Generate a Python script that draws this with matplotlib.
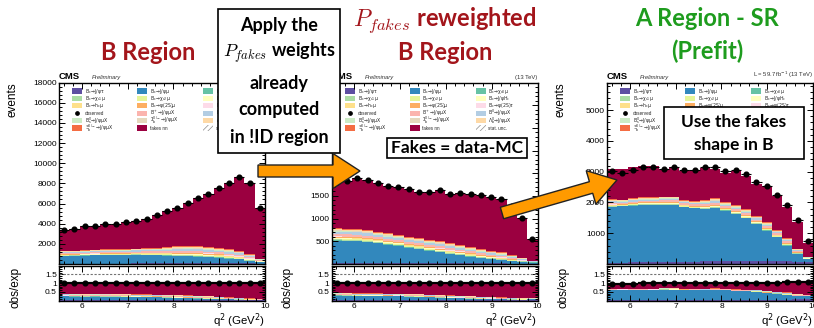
import numpy as np
import matplotlib
matplotlib.use("Agg")
import matplotlib.pyplot as plt
from matplotlib.patches import Rectangle, FancyArrow
from matplotlib.ticker import MultipleLocator, FixedLocator

plt.rcParams['font.family'] = ['Liberation Sans', 'DejaVu Sans']
plt.rcParams['hatch.linewidth'] = 0.5

# q2 binning (GeV^2)
q2_edges = np.linspace(5.5, 10.0, 21)

# stack components, bottom -> top
comp_keys = ['tau', 'mu', 'chic0', 'chic1', 'chic2', 'jpsihc', 'hc', 'psi2smu', 'psi2stau',
             'bplus', 'b0', 'bs', 'sigmab', 'lambdab', 'xib', 'fakes']
comp_labels = {
    'tau': r'$\mathrm{B_c\!\rightarrow\!J/\psi\tau}$',
    'mu': r'$\mathrm{B_c\!\rightarrow\!J/\psi\mu}$',
    'chic0': r'$\mathrm{B_c\!\rightarrow\!\chi_{c0}\mu}$',
    'chic1': r'$\mathrm{B_c\!\rightarrow\!\chi_{c1}\mu}$',
    'chic2': r'$\mathrm{B_c\!\rightarrow\!\chi_{c2}\mu}$',
    'jpsihc': r'$\mathrm{B_c\!\rightarrow\!J/\psi H_c}$',
    'hc': r'$\mathrm{B_c\!\rightarrow\!h_c\mu}$',
    'psi2smu': r'$\mathrm{B_c\!\rightarrow\!\psi(2S)\mu}$',
    'psi2stau': r'$\mathrm{B_c\!\rightarrow\!\psi(2S)\tau}$',
    'bplus': r'$\mathrm{B^+\!\rightarrow\!J/\psi\mu X}$',
    'b0': r'$\mathrm{B^0\!\rightarrow\!J/\psi\mu X}$',
    'bs': r'$\mathrm{B^0_s\!\rightarrow\!J/\psi\mu X}$',
    'sigmab': r'$\mathrm{\Sigma_b^{0/-}\!\rightarrow\!J/\psi\mu X}$',
    'lambdab': r'$\mathrm{\Lambda_b^0\!\rightarrow\!J/\psi\mu X}$',
    'xib': r'$\mathrm{\Xi_b^{0/-}\!\rightarrow\!J/\psi\mu X}$',
    'fakes': 'fakes nn',
}
comp_colors = {
    'tau': '#5e4fa2', 'mu': '#3288bd', 'chic0': '#66c2a5', 'chic1': '#abdda4',
    'chic2': '#e6f598', 'jpsihc': '#ffffbf', 'hc': '#fee08b', 'psi2smu': '#fdae61',
    'psi2stau': '#fddbe8', 'bplus': '#fbb4ae', 'b0': '#b3cde3', 'bs': '#ccebc5',
    'sigmab': '#e5d8bd', 'lambdab': '#fed9a6', 'xib': '#f46d43', 'fakes': '#9b0040',
}
# how the thin background layers share the "other MC" band
other_share = [0.04, 0.06, 0.05, 0.06, 0.04, 0.08, 0.03, 0.18, 0.18, 0.06, 0.04, 0.08, 0.10]

legend_grid = [['tau', 'mu', 'chic0'],
               ['chic1', 'chic2', 'jpsihc'],
               ['hc', 'psi2smu', 'psi2stau'],
               ['observed', 'bplus', 'b0'],
               ['bs', 'sigmab', 'lambdab'],
               ['xib', 'fakes', 'statunc']]

# --- B region (before reweighting) ---
obs_b = np.array([3350, 3520, 3780, 3750, 3920, 4010, 4150, 4310, 4510, 4840,
                  5270, 5530, 6060, 6520, 6920, 7520, 8050, 8640, 8050, 5570])
tau_b = np.array([35, 35, 40, 40, 40, 45, 45, 50, 50, 55, 55, 60, 60, 65, 65, 70, 70, 70, 60, 45])
mu_b = np.array([745, 765, 790, 810, 830, 835, 835, 830, 820, 805,
                 785, 740, 720, 675, 615, 550, 460, 380, 260, 145])
other_b = np.array([530, 530, 550, 570, 580, 590, 620, 650, 700, 750,
                    820, 940, 995, 1020, 1020, 980, 920, 860, 660, 355])

# --- B region, P_fakes reweighted ---
obs_bw = np.array([1810, 1830, 1900, 1855, 1780, 1720, 1705, 1645, 1580, 1590,
                   1630, 1550, 1575, 1535, 1515, 1485, 1425, 1275, 1020, 545])
tau_bw = np.array([12, 12, 13, 13, 14, 14, 15, 15, 15, 15, 15, 15, 15, 14, 14, 13, 12, 10, 8, 5])
mu_bw = np.array([501, 494, 493, 464, 441, 411, 388, 344, 315, 277,
                  240, 203, 181, 145, 116, 94, 73, 53, 40, 28])
other_bw = np.array([282, 274, 266, 273, 258, 251, 237, 229, 236, 244,
                     245, 237, 222, 222, 200, 185, 170, 133, 82, 37])

# --- A region (signal region), prefit ---
obs_a = np.array([3010, 2945, 3065, 3140, 3160, 3085, 3140, 3065, 3055, 3140,
                  3160, 3010, 3065, 2925, 2655, 2550, 2250, 1925, 1420, 745])
tau_a = np.array([40, 45, 50, 55, 60, 65, 70, 75, 80, 85, 90, 95, 100, 105, 110, 110, 105, 95, 80, 50])
mu_a = np.array([1805, 1830, 1850, 1865, 1860, 1855, 1850, 1770, 1730, 1705,
                 1720, 1640, 1520, 1375, 1190, 975, 765, 505, 250, 120])
other_a = np.array([265, 215, 235, 245, 245, 270, 270, 235, 230, 290,
                    325, 270, 300, 310, 270, 275, 230, 250, 160, 55])
fakes_a = np.array([990, 1010, 1025, 1035, 1025, 895, 950, 955, 1015, 1030,
                    965, 945, 1115, 1080, 1030, 1165, 1105, 1000, 890, 465])

W, H = 814, 328
fig = plt.figure(figsize=(W / 100, H / 100), dpi=100)

centers = 0.5 * (q2_edges[1:] + q2_edges[:-1])
half = 0.5 * np.diff(q2_edges)


def style_axes(a):
    a.set_xlim(q2_edges[0], q2_edges[-1])
    a.xaxis.set_major_locator(MultipleLocator(1))
    a.xaxis.set_minor_locator(MultipleLocator(0.2))
    a.tick_params(direction='in', which='both', top=True, right=True,
                  labelsize=6, width=0.7, pad=1.5)
    a.tick_params(which='major', length=4)
    a.tick_params(which='minor', length=2)
    for s in a.spines.values():
        s.set_linewidth(1.0)


def draw_panel(left, obs, tau, mu, other, fakes, ymax, ystep, lumi):
    axw = 206
    ax = fig.add_axes([left / W, 1 - 264 / H, axw / W, 181.5 / H])
    axr = fig.add_axes([left / W, 1 - 300.5 / H, axw / W, 35 / H])
    if fakes is None:
        fakes = obs - tau - mu - other   # fakes = data - MC
    layers = [tau, mu] + [other * s for s in other_share] + [fakes]
    pred = np.sum(layers, axis=0)
    base = np.zeros(len(obs))
    for key, vals in zip(comp_keys, layers):
        top = base + vals
        ax.stairs(top, q2_edges, baseline=base, fill=True, color=comp_colors[key],
                  lw=0, antialiased=False)
        axr.stairs(top / pred, q2_edges, baseline=base / pred, fill=True,
                   color=comp_colors[key], lw=0, antialiased=False)
        base = top
    ax.errorbar(centers, obs, xerr=half, fmt='o', color='black', ms=3.4,
                elinewidth=0.8, capsize=0, zorder=5)
    axr.errorbar(centers, obs / pred, xerr=half, fmt='o', color='black', ms=3.4,
                 elinewidth=1.6, capsize=0, zorder=5)
    axr.axhline(1.5, color='0.45', ls=(0, (2, 1.5)), lw=0.8)

    for a in (ax, axr):
        style_axes(a)
    ax.tick_params(labelbottom=False)
    ax.set_ylim(0, ymax)
    ax.yaxis.set_major_locator(FixedLocator(np.arange(ystep, ymax + 1, ystep)))
    ax.yaxis.set_minor_locator(MultipleLocator(ystep / 5))
    axr.set_ylim(0, 2)
    axr.set_yticks([0.5, 1, 1.5], ['0.5', '1', '1.5'])
    axr.yaxis.set_minor_locator(MultipleLocator(0.1))

    ax.set_ylabel('events', fontsize=8.5, loc='top')
    ax.yaxis.set_label_coords(-40 / axw, 1.0)
    axr.set_ylabel('obs/exp', fontsize=8.5)
    axr.yaxis.set_label_coords(-38 / axw, 0.37)
    axr.set_xlabel(r'q$^2$ (GeV$^2$)', fontsize=8.2, loc='right')
    axr.xaxis.set_label_coords(1.0, -0.3)

    ax.text(0, 1.008, 'CMS', transform=ax.transAxes, fontsize=6.8,
            fontweight='bold', va='bottom')
    ax.text(0.16, 1.012, 'Preliminary', transform=ax.transAxes, fontsize=4.2,
            style='italic', va='bottom', color='0.2')
    ax.text(1.0, 1.012, lumi, transform=ax.transAxes, fontsize=4.2,
            ha='right', va='bottom', color='0.2')

    # legend, drawn by hand in three columns like the ROOT one
    col_x = [13, 78, 144]
    for r, row in enumerate(legend_grid):
        for c, key in enumerate(row):
            x = col_x[c] / axw
            y = 1 - (8.5 + 7.4 * r) / 181.5
            if key == 'observed':
                ax.plot(x + 5 / axw, y, 'o', ms=2.4, color='black',
                        transform=ax.transAxes, clip_on=False)
                label = 'observed'
            elif key == 'statunc':
                ax.add_patch(Rectangle((x, y - 2.5 / 181.5), 10 / axw, 5 / 181.5,
                                       transform=ax.transAxes, fill=False,
                                       hatch='//////', ec='0.55', lw=0))
                label = 'stat. unc.'
            else:
                ax.add_patch(Rectangle((x, y - 2.6 / 181.5), 10 / axw, 5.2 / 181.5,
                                       transform=ax.transAxes, fc=comp_colors[key], lw=0))
                label = comp_labels[key]
            ax.text(x + 13 / axw, y, label, transform=ax.transAxes, fontsize=3.3,
                    va='center', color='0.15')
    return ax, axr


draw_panel(59, obs_b, tau_b, mu_b, other_b, None, 18000, 2000, '(13 TeV)')
draw_panel(331.5, obs_bw, tau_bw, mu_bw, other_bw, None, 4000, 500, '(13 TeV)')
draw_panel(607, obs_a, tau_a, mu_a, other_a, fakes_a, 5900, 1000,
           r'L = 59.7 fb$^{-1}$ (13 TeV)')

# slide overlay: titles, boxes, arrows (pixel coordinates)
ov = fig.add_axes([0, 0, 1, 1])
ov.set_xlim(0, W)
ov.set_ylim(H, 0)
ov.axis('off')

slide_font = ['Lato', 'DejaVu Sans']
red = '#a3151b'
green = '#1e9c1e'
tkw = dict(fontfamily=slide_font, fontweight='bold', ha='center', va='center',
           math_fontfamily='cm')

ov.text(148, 52, 'B Region', color=red, fontsize=17, **tkw)
ov.text(445, 20, r'$P_{fakes}$ reweighted', color=red, fontsize=17, **tkw)
ov.text(445, 52, 'B Region', color=red, fontsize=17, **tkw)
ov.text(707, 19, 'A Region - SR', color=green, fontsize=17, **tkw)
ov.text(707, 51, '(Prefit)', color=green, fontsize=17, **tkw)

ov.add_patch(Rectangle((218, 9), 122, 144, fc='white', ec='black', lw=1.2, zorder=3))
for yy, line in zip([25, 53, 84, 110, 137],
                    ['Apply the', r'$P_{fakes}$ weights', 'already', 'computed', 'in !ID region']):
    ov.text(279, yy, line, fontsize=13, zorder=4, **tkw)

ov.add_patch(Rectangle((387, 138), 140, 20, fc='white', ec='black', lw=1.2, zorder=3))
ov.text(457, 148, 'Fakes = data-MC', fontsize=12.5, zorder=4, **tkw)

ov.add_patch(Rectangle((664, 107), 140, 52, fc='white', ec='black', lw=1.2, zorder=3))
ov.text(734, 122, 'Use the fakes', fontsize=12.5, zorder=4, **tkw)
ov.text(734, 145, 'shape in B', fontsize=12.5, zorder=4, **tkw)

akw = dict(width=12, head_width=35, head_length=27, length_includes_head=True,
           fc='#ff9a00', ec='#222222', lw=1.0, zorder=5)
ov.add_patch(FancyArrow(258, 171, 102, 0, **akw))
ov.add_patch(FancyArrow(502, 213, 115, -33, **akw))

fig.savefig('out.png', dpi=100)
